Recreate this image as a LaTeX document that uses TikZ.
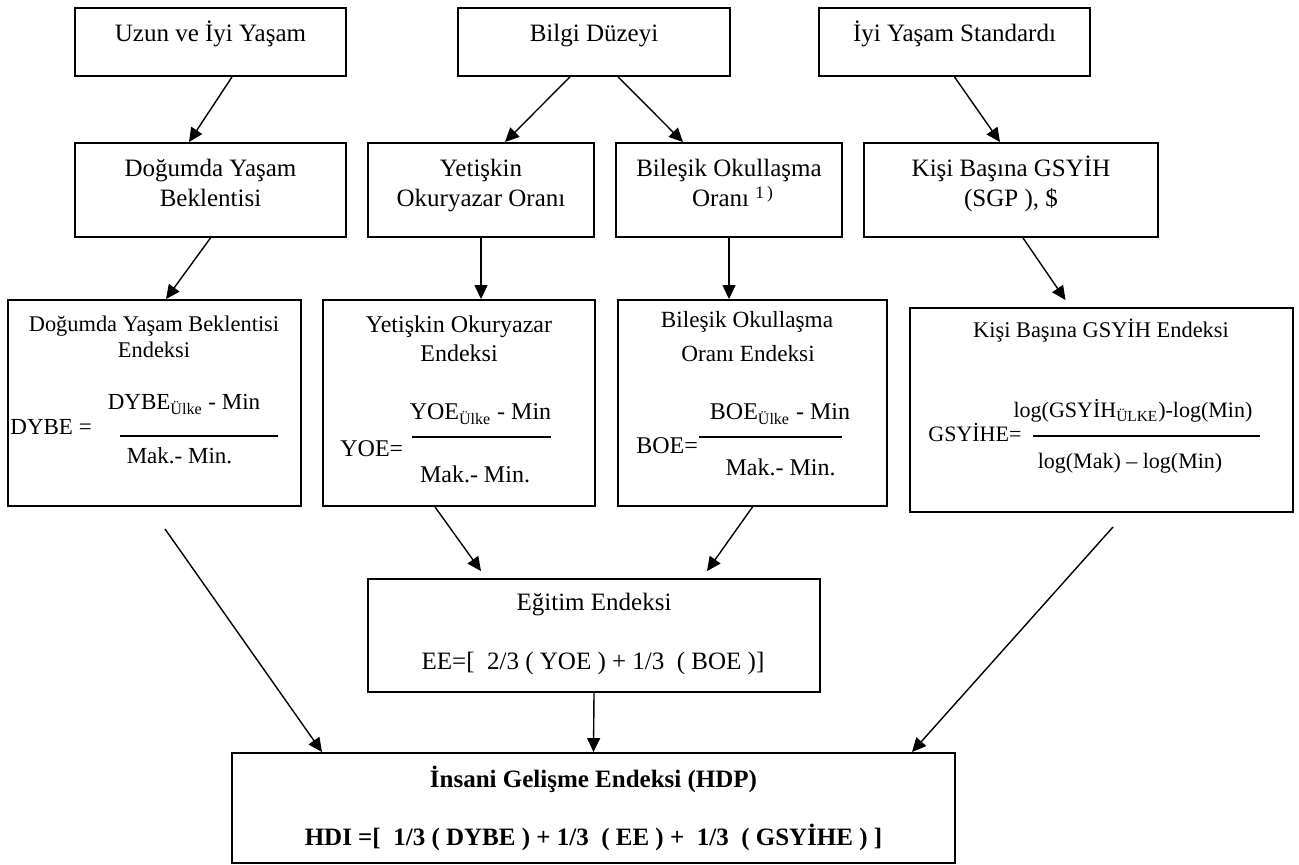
\documentclass[tikz,border=0pt]{standalone}
\usepackage{fontspec}
\setmainfont{Liberation Serif}
\usetikzlibrary{arrows.meta,fit,calc}
\tikzset{
  box/.style={draw, line width=0.95pt, inner sep=0pt},
  txt/.style={inner sep=0pt, anchor=base, font=\fontsize{12.5}{16}\selectfont},
  txtb/.style={txt, font=\fontsize{12.5}{16}\selectfont\bfseries},
  txtH/.style={txt, font=\fontsize{11.2}{14}\selectfont},
  txtI/.style={txt, font=\fontsize{12}{14}\selectfont},
  txtJ/.style={txt, font=\fontsize{11.6}{14}\selectfont},
  fH/.style={txt, font=\fontsize{11.5}{14}\selectfont},
  fI/.style={txt, font=\fontsize{12}{14}\selectfont},
  fK/.style={txt, font=\fontsize{11}{13}\selectfont},
  frac/.style={line width=0.8pt},
  arr/.style={-{Triangle[length=7pt,width=6.5pt]}, line width=0.7pt},
}
\begin{document}
\begin{tikzpicture}[x=0.5pt, y=-0.5pt]
\useasboundingbox (0,0) rectangle (1299,865);
% ---------- row 1
\node[box, fit={(75,8)(346,76)}] (A) {};
\node[box, fit={(458,8)(730,76)}] (B) {};
\node[box, fit={(819,8)(1090,76)}] (C) {};
\node[txt] (At) at (210.5,42) {Uzun ve İyi Yaşam};
\node[txt] (Bt) at (594,42) {Bilgi Düzeyi};
\node[txt] (Ct) at (954.5,42) {İyi Yaşam Standardı};
% ---------- row 2
\node[box, fit={(75,143)(346,237)}] (D) {};
\node[box, fit={(368,143)(594,237)}] (E) {};
\node[box, fit={(616,143)(842,237)}] (F) {};
\node[box, fit={(864,143)(1158,237)}] (G) {};
\node[txt] (Dt1) at (210.5,177) {Doğumda Yaşam};
\node[txt] (Dt2) at (210.5,207) {Beklentisi};
\node[txt] (Et1) at (481,177) {Yetişkin};
\node[txt] (Et2) at (481,207) {Okuryazar Oranı};
\node[txt] (Ft1) at (729,177) {Bileşik Okullaşma};
\node[txt] (Ft2) at (733,207) {Oranı \textsuperscript{1\,)}};
\node[txt] (Gt1) at (1011,177) {Kişi Başına GSYİH};
\node[txt] (Gt2) at (1011,207) {(SGP ), \$};
% ---------- row 3
\node[box, fit={(8,300)(301,506)}] (H) {};
\node[box, fit={(323,300)(595,506)}] (I) {};
\node[box, fit={(618,300)(887,506)}] (J) {};
\node[box, fit={(910,308)(1293,512)}] (K) {};
% H
\node[txtH] (Ht1) at (154,332) {Doğumda Yaşam Beklentisi};
\node[txtH] (Ht2) at (154,358) {Endeksi};
\node[fH, anchor=base west] (Hl) at (10,435) {DYBE =};
\node[fH] (Hn) at (184,410) {DYBE\textsubscript{Ülke} - Min};
\node[fH] (Hd) at (179.5,463) {Mak.- Min.};
\draw[frac] (120,436) -- (278,436);
% I
\node[txtI] (It1) at (459,333) {Yetişkin Okuryazar};
\node[txtI] (It2) at (459,362) {Endeksi};
\node[fI, anchor=base west] (Il) at (340,457) {YOE=};
\node[fI] (In) at (480.5,420) {YOE\textsubscript{Ülke} - Min};
\node[fI] (Id) at (475,482) {Mak.- Min.};
\draw[frac] (412,437) -- (551,437);
% J
\node[txtJ] (Jt1) at (747,328) {Bileşik Okullaşma};
\node[txtJ] (Jt2) at (748,362) {Oranı Endeksi};
\node[fI, anchor=base west] (Jl) at (636,453) {BOE=};
\node[fI] (Jn) at (780,420) {BOE\textsubscript{Ülke} - Min};
\node[fI] (Jd) at (780.5,475) {Mak.- Min.};
\draw[frac] (699,437) -- (842,437);
% K
\node[txtH] (Kt) at (1101,338) {Kişi Başına GSYİH Endeksi};
\node[fK, anchor=base west] (Kl) at (928,442) {GSYİHE=};
\node[fK] (Kn) at (1133,417) {log(GSYİH\textsubscript{ÜLKE})-log(Min)};
\node[fK] (Kd) at (1130,468) {log(Mak) – log(Min)};
\draw[frac] (1033,436) -- (1260,436);
% ---------- Egitim
\node[box, fit={(368,579)(820,692)}] (L) {};
\node[txt] (Lt) at (594,610) {Eğitim Endeksi};
\node[txt] (Lf) at (593,669) {EE=[\ \ 2/3 ( YOE ) + 1/3\ \ ( BOE )]};
% ---------- HDI
\node[box, fit={(232,753)(955,863)}] (M) {};
\node[txtb] (Mt) at (593.5,787) {İnsani Gelişme Endeksi (HDP)};
\node[txtb] (Mf) at (593.5,845) {HDI =[\ \ 1/3 ( DYBE ) + 1/3\ \ ( EE ) +\ \ 1/3\ \ ( GSYİHE ) ]};
% ---------- connectors
\coordinate (hs) at (165,529);
\coordinate (ks) at (1113,527);
\draw[arr] ($(A.south)+(21.5,0)$) -- ($(D.north)+(-21.5,0)$);
\draw[arr] ($(B.south)+(-24,0)$) -- ($(E.north)+(24,0)$);
\draw[arr] ($(B.south)+(24,0)$) -- ($(F.north)+(-46,0)$);
\draw[arr] (C.south) -- ($(G.north)+(-11,0)$);
\draw[arr] (D.south) -- ($(H.north)+(11.5,0)$);
\draw[arr] (E.south) -- ($(I.north)+(22,0)$);
\draw[arr] (F.south) -- ($(J.north)+(-23.5,0)$);
\draw[arr] ($(G.south)+(12,0)$) -- ($(K.north)+(-36,-7)$);
\draw[arr] ($(I.south)+(-24,0)$) -- ($(L.north)+(-113,-7)$);
\draw[arr] (J.south) -- ($(L.north)+(113,-7)$);
\draw[arr] (hs) -- ($(M.north)+(-271.5,0)$);
\draw[arr] (ks) -- ($(M.north)+(318.5,0)$);
\draw[arr] (L.south) -- (M.north);
\end{tikzpicture}
\end{document}
